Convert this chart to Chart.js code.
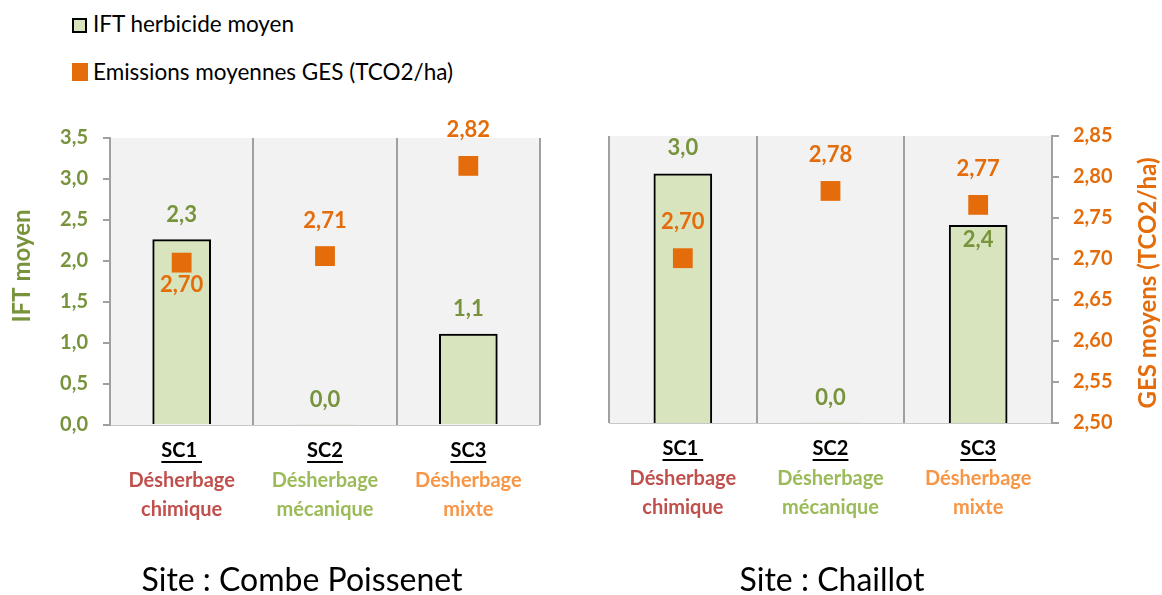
<!DOCTYPE html>
<html>
<head>
<meta charset="utf-8">
<script src="https://cdn.jsdelivr.net/npm/chart.js@4/dist/chart.umd.min.js"></script>
<style>
  body { margin: 0; background: #fff; font-family: Lato, sans-serif; }
  #wrap { position: relative; width: 1162px; height: 595px; overflow: hidden; }
  #wrap canvas { position: absolute; left: 0; top: 0; }
  .leg { position: absolute; left: 93px; font-size: 22.5px; line-height: 22px; color: #000; white-space: nowrap; }
  .box { position: absolute; left: 72px; box-sizing: border-box; }
  .site { position: absolute; font-size: 32px; line-height: 32px; color: #000; white-space: nowrap; transform: translateX(-50%); }
</style>
</head>
<body>
<div id="wrap">
  <div class="box" style="top:18px;width:15px;height:15px;background:#d7e4bd;border:2px solid #000;"></div>
  <div class="leg" style="top:13px;">IFT herbicide moyen</div>
  <div class="box" style="top:63px;width:16px;height:18px;background:#e46c0a;"></div>
  <div class="leg" style="top:61px;">Emissions moyennes GES (TCO2/ha)</div>
  <canvas id="chartCombe" width="1162" height="595"></canvas>
  <canvas id="chartChaillot" width="1162" height="595"></canvas>
  <div class="site" id="site0" style="left:302px;top:563px;"></div>
  <div class="site" id="site1" style="left:832px;top:563px;"></div>
</div>
<script>
// données
const categories = ["SC1 ", "SC2", "SC3"];
const methodLine1 = ["Désherbage", "Désherbage", "Désherbage"];
const methodLine2 = ["chimique", "mécanique", "mixte"];
const siteNames = ["Site : Combe Poissenet", "Site : Chaillot"];

const iftCombe = [2.26, 0, 1.11];
const iftChaillot = [3.04, 0, 2.41];
const gesCombe = [2.698, 2.706, 2.816];
const gesChaillot = [2.701, 2.783, 2.766];

const iftMin = 0, iftMax = 3.5, iftStep = 0.5;
const gesMin = 2.5, gesMax = 2.85, gesStep = 0.05;

const GREEN = "#77933c";
const ORANGE = "#e46c0a";
const methodColors = ["#c0504d", "#9bbb59", "#f79646"];
const AXIS_GREY = "#a0a0a0";

document.getElementById("site0").textContent = siteNames[0];
document.getElementById("site1").textContent = siteNames[1];

const fmt = (v, d) => v.toFixed(d).replace(".", ",");

// fonds gris + séparateurs verticaux
const bandsPlugin = {
  id: "bands",
  beforeDraw(chart) {
    const { ctx, chartArea: a } = chart;
    const n = chart.data.labels.length;
    const w = a.width / n;
    ctx.save();
    ctx.fillStyle = "#f2f2f2";
    ctx.fillRect(a.left, a.top, a.width, a.height);
    ctx.strokeStyle = AXIS_GREY;
    ctx.lineWidth = 2;
    for (let i = 0; i <= n; i++) {
      const px = Math.round(a.left + i * w);
      ctx.beginPath();
      ctx.moveTo(px, a.top);
      ctx.lineTo(px, a.bottom);
      ctx.stroke();
    }
    ctx.strokeStyle = "#c8c8c8";
    ctx.lineWidth = 1;
    ctx.beginPath();
    ctx.moveTo(a.left, a.bottom + 0.5);
    ctx.lineTo(a.right, a.bottom + 0.5);
    ctx.stroke();
    ctx.restore();
  }
};

// étiquettes de valeurs
const valueLabels = {
  id: "valueLabels",
  afterDatasetsDraw(chart, args, opts) {
    const ctx = chart.ctx;
    ctx.save();
    ctx.font = "bold 22px Lato";
    ctx.textAlign = "center";
    ctx.textBaseline = "middle";
    chart.data.datasets.forEach((ds, di) => {
      const meta = chart.getDatasetMeta(di);
      meta.data.forEach((el, i) => {
        const isBar = ds.type === "bar";
        const dy = isBar ? opts.barDy[i] : opts.pointDy[i];
        ctx.fillStyle = isBar ? GREEN : ORANGE;
        ctx.fillText(fmt(ds.data[i], isBar ? 1 : 2), el.x, el.y + dy);
      });
    });
    ctx.restore();
  }
};

// libellés de catégories + titres d'axes
const axisText = {
  id: "axisText",
  afterDraw(chart, args, opts) {
    const { ctx, chartArea: a } = chart;
    const x = chart.scales.x;
    ctx.save();
    ctx.textAlign = "center";
    ctx.textBaseline = "middle";
    chart.data.labels.forEach((lab, i) => {
      const cx = x.getPixelForValue(i);
      ctx.font = "bold 20px Lato";
      ctx.fillStyle = "#000";
      ctx.fillText(lab, cx, a.bottom + 26);
      const tw = ctx.measureText(lab).width;
      ctx.fillRect(cx - tw / 2, a.bottom + 36, tw, 2);
      ctx.fillStyle = methodColors[i];
      ctx.fillText(methodLine1[i], cx, a.bottom + 56);
      ctx.fillText(methodLine2[i], cx, a.bottom + 85);
    });
    if (opts.title) {
      ctx.font = "bold 24px Lato";
      ctx.fillStyle = opts.titleColor;
      ctx.translate(opts.titleX, opts.titleY);
      ctx.rotate(-Math.PI / 2);
      ctx.fillText(opts.title, 0, 0);
    }
    ctx.restore();
  }
};

const fixWidth = (s) => { if (s.options.display) s.width = 110; };

function makeChart(id, ift, ges, leftAxis, padding, barDy, pointDy, axisOpts) {
  return new Chart(document.getElementById(id), {
    type: "bar",
    data: {
      labels: categories,
      datasets: [
        {
          type: "line",
          label: "Emissions moyennes GES (TCO2/ha)",
          data: ges,
          yAxisID: "y2",
          showLine: false,
          pointStyle: "rect",
          pointRadius: 14,
          pointHoverRadius: 14,
          pointBackgroundColor: ORANGE,
          pointBorderWidth: 0,
          order: 1
        },
        {
          type: "bar",
          label: "IFT herbicide moyen",
          data: ift,
          yAxisID: "y",
          backgroundColor: "#d7e4bd",
          borderColor: "#000",
          borderWidth: (c) => (c.raw === 0 ? 0 : 2),
          barThickness: 58,
          order: 2
        }
      ]
    },
    options: {
      responsive: false,
      animation: false,
      events: [],
      layout: { padding },
      plugins: {
        legend: { display: false },
        tooltip: { enabled: false },
        valueLabels: { barDy, pointDy },
        axisText: axisOpts
      },
      scales: {
        x: { display: false },
        y: {
          display: leftAxis,
          position: "left",
          min: iftMin,
          max: iftMax,
          afterFit: fixWidth,
          ticks: {
            stepSize: iftStep,
            padding: 15,
            color: GREEN,
            font: { family: "Lato", size: 20, weight: "bold" },
            callback: (v) => fmt(v, 1)
          },
          grid: { drawOnChartArea: false, tickLength: 7, color: AXIS_GREY, lineWidth: 2 },
          border: { color: AXIS_GREY, width: 2 }
        },
        y2: {
          display: !leftAxis,
          position: "right",
          min: gesMin,
          max: gesMax,
          afterFit: fixWidth,
          ticks: {
            stepSize: gesStep,
            padding: 14,
            color: ORANGE,
            font: { family: "Lato", size: 20, weight: "bold" },
            callback: (v) => fmt(v, 2)
          },
          grid: { drawOnChartArea: false, tickLength: 7, color: AXIS_GREY, lineWidth: 2 },
          border: { color: AXIS_GREY, width: 2 }
        }
      }
    },
    plugins: [bandsPlugin, valueLabels, axisText]
  });
}

makeChart("chartCombe", iftCombe, gesCombe, true,
  { left: 0, top: 138, right: 622, bottom: 170 },
  [-25, -25, -25], [22, -35, -36],
  { title: "IFT moyen", titleColor: GREEN, titleX: 22, titleY: 266 });

makeChart("chartChaillot", iftChaillot, gesChaillot, false,
  { left: 609, top: 136, right: 0, bottom: 172 },
  [-26, -25, 15], [-36, -36, -36],
  { title: "GES moyens (TCO2/ha)", titleColor: ORANGE, titleX: 1148, titleY: 283 });
</script>
</body>
</html>
